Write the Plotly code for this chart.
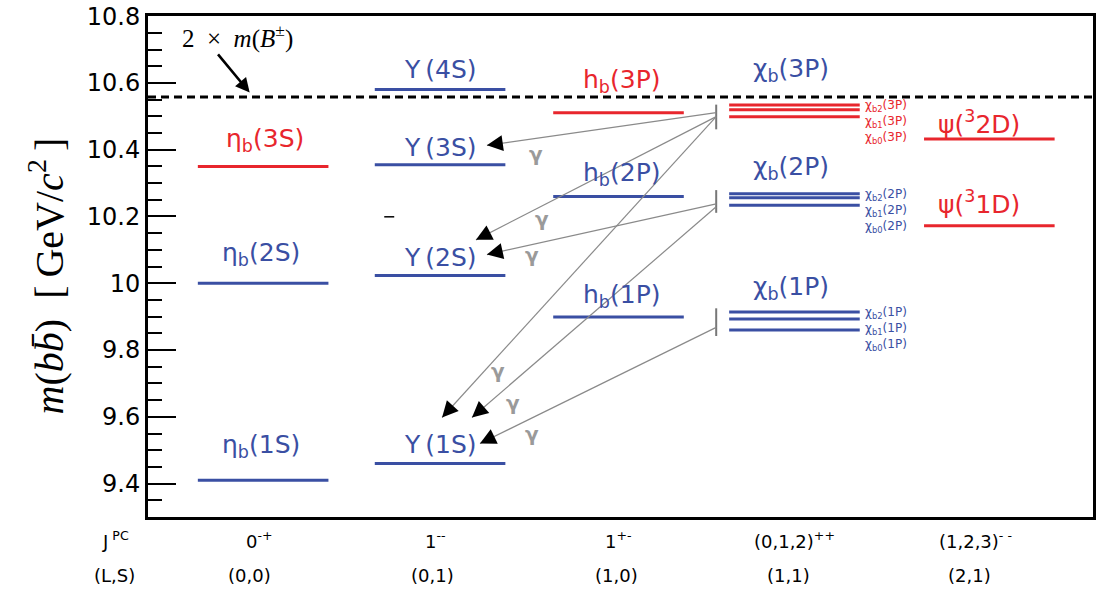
import math
import plotly.graph_objects as go

# ---------------- data ----------------
# spin-parity columns (bottom labels)
col_jpc = ["0<sup>-+</sup>", "1<sup>--</sup>", "1<sup>+-</sup>", "(0,1,2)<sup>++</sup>", "(1,2,3)<sup>- -</sup>"]
col_ls = ["(0,0)", "(0,1)", "(1,0)", "(1,1)", "(2,1)"]

# single levels
lvl_names = ["η<sub>b</sub>(1S)", "η<sub>b</sub>(2S)", "η<sub>b</sub>(3S)",
             "Υ\u2009(1S)", "Υ\u2009(2S)", "Υ\u2009(3S)", "Υ\u2009(4S)",
             "h<sub>b</sub>(1P)", "h<sub>b</sub>(2P)", "h<sub>b</sub>(3P)",
             "ψ(<sup>3</sup>2D)", "ψ(<sup>3</sup>1D)"]
lvl_col = [0, 0, 0, 1, 1, 1, 1, 2, 2, 2, 4, 4]
lvl_mass = [9.41, 10.00, 10.35, 9.46, 10.023, 10.355, 10.58,
            9.899, 10.26, 10.511, 10.432, 10.172]
lvl_kind = ["obs", "obs", "pred", "obs", "obs", "obs", "obs",
            "obs", "obs", "pred", "pred", "pred"]

# chi_b triplets (J = 2, 1, 0)
chi_names = ["χ<sub>b</sub>(1P)", "χ<sub>b</sub>(2P)", "χ<sub>b</sub>(3P)"]
chi_n = ["1P", "2P", "3P"]
chi_mass = [[9.914, 9.893, 9.860],
            [10.268, 10.256, 10.234],
            [10.534, 10.520, 10.499]]
chi_kind = ["obs", "obs", "pred"]
chi_bar = [[9.842, 9.925], [10.211, 10.279], [10.461, 10.535]]

# radiative transitions chi_b -> Upsilon
tr_from_mass = [10.511, 10.499, 10.499, 10.2375, 10.229, 9.868]
tr_to_x = [340, 329, 295, 340, 325, 333]
tr_to_mass = [10.413, 10.130, 9.598, 10.086, 9.598, 9.520]
gam_x = [389, 395, 385, 351, 366, 385]
gam_mass = [10.386, 10.193, 10.086, 9.7375, 9.642, 9.55]

threshold = 10.558  # 2 x m(B+-)
stray_x = [237, 247]
stray_mass = [10.199, 10.199]

# ---------------- layout constants ----------------
W, H = 1099, 597
ML, MR, MT, MB = 148, 3, 13, 80
XR = [0, W - ML - MR]
YR = [9.3, 10.8004]
PXY = (H - MT - MB) / (YR[1] - YR[0])
col_x = [115.5, 293, 472, 648.5, 844]
half = 65.5
bar_x = 570
BLUE = "#3a4fa3"
RED = "#e8262d"
colour = {"obs": BLUE, "pred": RED}
lab_shift = [34, 29, 26, 19, 18, 17, 20, 21, 22, 32, 17, 23]
lab_dx = [-2, -2, 2, 0, 0, 0, 0, 3, 3, 3, -10, -10]
chi_shift = [24, 26, 35]
chi_lab_colour = [BLUE, BLUE, BLUE]

fig = go.Figure()

def seg_trace(xs, ys, color, width, dash=None):
    fig.add_trace(go.Scatter(x=xs, y=ys, mode="lines", hoverinfo="skip",
                             line=dict(color=color, width=width, dash=dash),
                             showlegend=False))

# threshold
seg_trace([XR[0], XR[1]], [threshold, threshold], "black", 3, "8px,5px")

# levels
for kind in ("obs", "pred"):
    xs, ys = [], []
    for c, m, k in zip(lvl_col, lvl_mass, lvl_kind):
        if k == kind:
            xs += [col_x[c] - half, col_x[c] + half, None]
            ys += [m, m, None]
    for ms, k in zip(chi_mass, chi_kind):
        if k == kind:
            for m in ms:
                xs += [col_x[3] - half, col_x[3] + half, None]
                ys += [m, m, None]
    seg_trace(xs, ys, colour[kind], 3)

# vertical bars
bx, by = [], []
for b in chi_bar:
    bx += [bar_x, bar_x, None]
    by += [b[0], b[1], None]
seg_trace(bx, by, "#777777", 2)

# transitions lines
tx, ty = [], []
for fm, x2, m2 in zip(tr_from_mass, tr_to_x, tr_to_mass):
    tx += [bar_x, x2, None]
    ty += [fm, m2, None]
seg_trace(tx, ty, "#8a8a8a", 1.2)

seg_trace(stray_x, stray_mass, "black", 1.5)

ann = []
# arrowheads
for fm, x2, m2 in zip(tr_from_mass, tr_to_x, tr_to_mass):
    dx = bar_x - x2
    dy = -(fm - m2) * PXY
    L = math.hypot(dx, dy)
    ann.append(dict(x=x2, y=m2, xref="x", yref="y", ax=dx / L * 13, ay=dy / L * 13,
                    showarrow=True, arrowhead=2, arrowsize=2.9, arrowwidth=1.1,
                    arrowcolor="black", standoff=0, text=""))
# gammas
for gx, gm in zip(gam_x, gam_mass):
    ann.append(dict(x=gx, y=gm, xref="x", yref="y", text="<b>γ</b>", showarrow=False,
                    font=dict(family="DejaVu Sans", size=20, color="#9a9a9a")))

# level labels
for i, (nm, c, m, k) in enumerate(zip(lvl_names, lvl_col, lvl_mass, lvl_kind)):
    ann.append(dict(x=col_x[c], y=m, xref="x", yref="y", text=nm, showarrow=False,
                    yshift=lab_shift[i], xshift=lab_dx[i],
                    font=dict(family="DejaVu Sans", size=25, color=colour[k])))
for i, (nm, ms, k) in enumerate(zip(chi_names, chi_mass, chi_kind)):
    ann.append(dict(x=col_x[3], y=ms[0], xref="x", yref="y", text=nm, showarrow=False,
                    yshift=chi_shift[i], xshift=-3,
                    font=dict(family="DejaVu Sans", size=25, color=chi_lab_colour[i])))
    for j, J in enumerate(["2", "1", "0"]):
        ann.append(dict(x=col_x[3] + half + 3, y=ms[0], xref="x", yref="y",
                        text="χ<sub>b%s</sub>(%s)" % (J, chi_n[i]), showarrow=False,
                        xanchor="left", yshift=-1 - 16 * j,
                        font=dict(family="DejaVu Sans", size=12, color=colour[k])))

# threshold label and arrow
ann.append(dict(x=90, y=10.74, xref="x", yref="y", showarrow=False,
                text="2\u2002×\u2002<i>m</i>(<i>B</i><sup>±</sup>)",
                font=dict(family="Liberation Serif", size=25, color="black")))
ann.append(dict(x=102, y=10.571, ax=69, ay=10.69, xref="x", yref="y", axref="x", ayref="y",
                showarrow=True, arrowhead=2, arrowsize=1.1, arrowwidth=2.6,
                arrowcolor="black", standoff=0, text=""))

# bottom quantum-number rows
bf = dict(family="DejaVu Sans", size=18, color="black")
row1_dx = [-3.5, -5, 0, 0, -14]
row2_dx = [-13.5, -8, -2, -5.5, -20]
Y1, Y2 = -0.045, -0.117
ann.append(dict(x=-0.034, y=Y1, xref="paper", yref="paper", text="J<sup> PC</sup>",
                xanchor="center", yanchor="middle", showarrow=False, font=bf))
ann.append(dict(x=-0.035, y=Y2, xref="paper", yref="paper", text="(L,S)",
                xanchor="center", yanchor="middle", showarrow=False, font=bf))
for i in range(5):
    ann.append(dict(x=col_x[i], y=Y1, xref="x", yref="paper", text=col_jpc[i],
                    xanchor="center", yanchor="middle",
                    xshift=row1_dx[i], showarrow=False, font=bf))
    ann.append(dict(x=col_x[i], y=Y2, xref="x", yref="paper", text=col_ls[i],
                    xanchor="center", yanchor="middle",
                    xshift=row2_dx[i], showarrow=False, font=bf))

# y title
ann.append(dict(x=-0.107, y=0.482, xref="paper", yref="paper", textangle=-90,
                xanchor="center", yanchor="middle", showarrow=False,
                text="<i>m</i>(<i>b</i><i>b\u0304</i>)\u2002[\u2009GeV/<i>c</i><sup>2</sup>\u2009]",
                font=dict(family="Liberation Serif", size=40, color="black")))

fig.update_layout(
    width=W, height=H, margin=dict(l=ML, r=MR, t=MT, b=MB),
    paper_bgcolor="white", plot_bgcolor="white", annotations=ann,
    xaxis=dict(range=XR, showgrid=False, zeroline=False, showticklabels=False,
               showline=True, linewidth=3, linecolor="black", mirror=True, ticks=""),
    yaxis=dict(range=YR, tick0=9.4, dtick=0.2, showgrid=False, zeroline=False,
               ticks="inside", ticklen=28, tickwidth=1.5, tickcolor="black",
               showline=True, linewidth=3, linecolor="black", mirror=True,
               ticklabeloverflow="allow",
               tickfont=dict(family="DejaVu Sans", size=24, color="black"),
               minor=dict(dtick=0.05, ticks="inside", ticklen=14, tickwidth=1.5,
                          tickcolor="black", showgrid=False)),
)

fig.write_html("out.html")
